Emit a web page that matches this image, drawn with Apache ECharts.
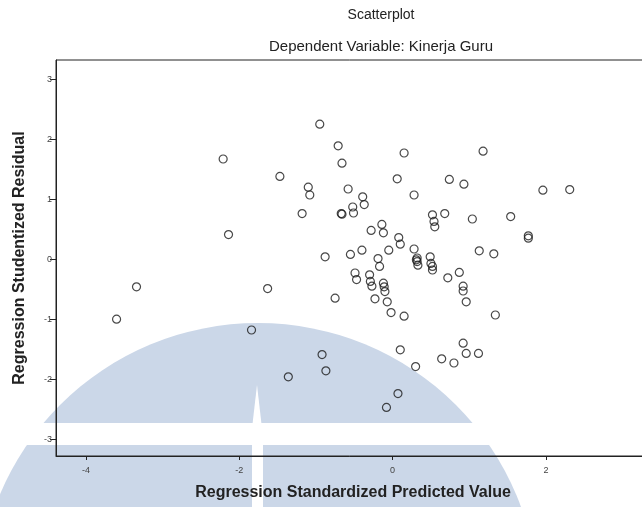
<!DOCTYPE html>
<html>
<head>
<meta charset="utf-8">
<title>Scatterplot</title>
<script src="https://cdn.jsdelivr.net/npm/echarts@6/dist/echarts.min.js"></script>
<style>
  html, body { margin: 0; padding: 0; background: #fff; }
  #chart { width: 642px; height: 507px; }
</style>
</head>
<body>
<div id="chart"></div>
<script>
// Regression Standardized Predicted Value (x) for each case
const predicted = [
  -3.60, -3.34, -2.21, -2.14, -1.84, -1.63, -1.47, -1.36, -1.18, -1.10,
  -1.08, -0.95, -0.92, -0.88, -0.87, -0.75, -0.71, -0.67, -0.66, -0.66,
  -0.58, -0.55, -0.52, -0.51, -0.49, -0.47, -0.40, -0.39, -0.37, -0.30,
  -0.29, -0.27, -0.28, -0.23, -0.19, -0.17, -0.14, -0.12, -0.12, -0.11,
  -0.10, -0.07, -0.08, -0.05, -0.02, 0.06, 0.07, 0.08, 0.10, 0.10,
  0.15, 0.15, 0.28, 0.28, 0.30, 0.32, 0.32, 0.33, 0.31, 0.49,
  0.50, 0.52, 0.52, 0.52, 0.54, 0.55, 0.64, 0.68, 0.72, 0.74,
  0.80, 0.87, 0.92, 0.92, 0.92, 0.93, 0.96, 0.96, 1.04, 1.12,
  1.13, 1.18, 1.32, 1.34, 1.54, 1.77, 1.77, 1.96, 2.31
];

// Regression Studentized Residual (y) for each case
const residual = [
  -1.00, -0.46, 1.67, 0.41, -1.18, -0.49, 1.38, -1.96, 0.76, 1.20,
  1.07, 2.25, -1.59, 0.04, -1.86, -0.65, 1.89, 0.76, 0.75, 1.60,
  1.17, 0.08, 0.87, 0.77, -0.23, -0.34, 0.15, 1.04, 0.91, -0.26,
  -0.37, -0.45, 0.48, -0.66, 0.01, -0.12, 0.58, 0.44, -0.40, -0.46,
  -0.54, -0.71, -2.47, 0.15, -0.89, 1.34, -2.24, 0.36, 0.25, -1.51,
  1.77, -0.95, 1.07, 0.17, -1.79, 0.02, -0.04, -0.10, -0.01, 0.04,
  -0.07, -0.12, -0.18, 0.74, 0.63, 0.54, -1.66, 0.76, -0.31, 1.33,
  -1.73, -0.22, -0.45, -0.53, -1.40, 1.25, -0.71, -1.57, 0.67, -1.57,
  0.14, 1.80, 0.09, -0.93, 0.71, 0.39, 0.35, 1.15, 1.16
];

const xTicks = [-4, -2, 0, 2];
const yTicks = [-3, -2, -1, 0, 1, 2, 3];

const points = predicted.map((x, i) => [x, residual[i]]);

const FONT = '"Liberation Sans", Arial, sans-serif';

const chart = echarts.init(document.getElementById('chart'), null, { renderer: 'canvas' });

chart.setOption({
  animation: false,
  backgroundColor: '#ffffff',
  grid: {
    left: 56, top: 60, width: 594, height: 396,
    outerBoundsMode: 'none',
    show: true, borderColor: '#222', borderWidth: 1,
    backgroundColor: 'transparent'
  },
  graphic: [
    // faint institutional emblem printed behind the plot
    { type: 'circle', z: -10, silent: true,
      shape: { cx: 258, cy: 603, r: 280 },
      style: { fill: '#cbd7e8' } },
    { type: 'rect', z: -9, silent: true,
      shape: { x: 0, y: 423, width: 642, height: 22 },
      style: { fill: '#ffffff' } },
    { type: 'polygon', z: -9, silent: true,
      shape: { points: [[257, 385], [252.5, 424], [261.5, 424]] },
      style: { fill: '#ffffff' } },
    { type: 'rect', z: -9, silent: true,
      shape: { x: 252, y: 444, width: 11, height: 70 },
      style: { fill: '#ffffff' } },
    // chart titles
    { type: 'text', x: 381, y: 15, z: 10,
      style: { text: 'Scatterplot', fill: '#222', font: '14px ' + FONT,
               textAlign: 'center', textVerticalAlign: 'middle' } },
    { type: 'text', x: 381, y: 47, z: 10,
      style: { text: 'Dependent Variable: Kinerja Guru', fill: '#222', font: '15px ' + FONT,
               textAlign: 'center', textVerticalAlign: 'middle' } }
  ],
  xAxis: {
    type: 'value',
    min: -4.39, max: 3.357,
    name: 'Regression Standardized Predicted Value',
    nameLocation: 'middle',
    nameGap: 29,
    nameTextStyle: { fontFamily: FONT, fontSize: 16, fontWeight: 'bold', color: '#222' },
    axisLine: { show: true, onZero: false, lineStyle: { color: '#222', width: 1 } },
    axisTick: { show: true, customValues: xTicks, length: 4, lineStyle: { color: '#222' } },
    axisLabel: { customValues: xTicks, fontFamily: FONT, fontSize: 9, color: '#444', margin: 10 },
    splitLine: { show: false }
  },
  yAxis: {
    type: 'value',
    min: -3.28, max: 3.32,
    name: 'Regression Studentized Residual',
    nameLocation: 'middle',
    nameGap: 28,
    nameTextStyle: { fontFamily: FONT, fontSize: 16, fontWeight: 'bold', color: '#222' },
    axisLine: { show: true, onZero: false, lineStyle: { color: '#222', width: 1 } },
    axisTick: { show: true, customValues: yTicks, length: 6, lineStyle: { color: '#222' } },
    axisLabel: { customValues: yTicks, fontFamily: FONT, fontSize: 9, color: '#444', margin: 4 },
    splitLine: { show: false }
  },
  series: [{
    type: 'scatter',
    data: points,
    symbol: 'circle',
    symbolSize: 8,
    itemStyle: { color: 'rgba(0,0,0,0)', borderColor: '#1a1a1a', borderWidth: 1.2 },
    emphasis: { disabled: true }
  }]
});
</script>
</body>
</html>
